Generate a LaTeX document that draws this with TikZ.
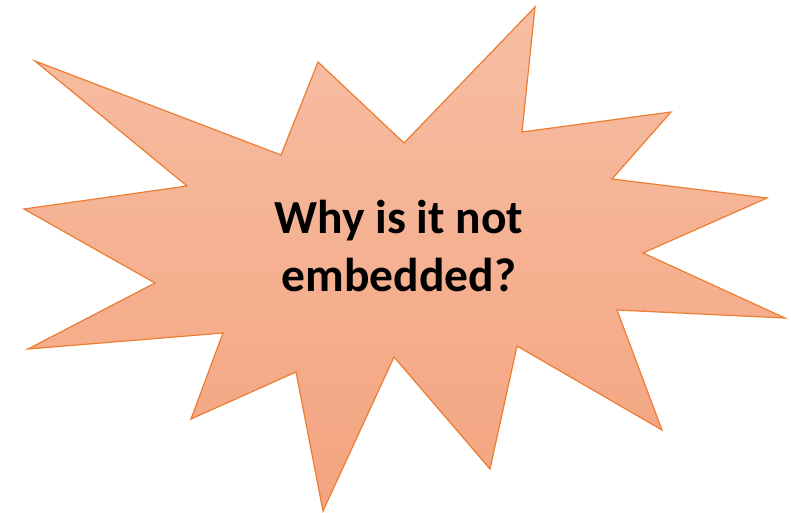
\documentclass[tikz,border=0pt]{standalone}
\usepackage{fontspec}
\setmainfont{Carlito}
\usepackage{tikz}
\definecolor{burstline}{HTML}{ED7D31}
\definecolor{bursttop}{HTML}{F6BEA4}
\definecolor{burstbot}{HTML}{F4A47F}
\tikzset{
  burst/.style={draw=burstline, line width=1.2pt, line join=miter,
    top color=bursttop, bottom color=burstbot},
  bursttext/.style={font=\bfseries\fontsize{47.5}{58}\selectfont, align=center,
    inner sep=0pt},
}

\begin{document}
\begin{tikzpicture}[x=1pt, y=-1pt]
  \useasboundingbox (0,0) rectangle (791,512);
  % explosion outline, clockwise from the upper left spike
  \path[burst] (35,61) -- (281,155) -- (318,62) -- (404,143) -- (535,7)
    -- (522,132) -- (671,112) -- (612,179) -- (767,198) -- (643,253)
    -- (785,318) -- (617,310) -- (662,430) -- (517,346) -- (490,469)
    -- (394,357) -- (323,511) -- (296,372) -- (191,419) -- (223,333)
    -- (28,349) -- (155,283) -- (24,209) -- (187,186) -- cycle;
  % the question
  \node[bursttext] (question) at (399,246) {Why is it not\\embedded?};
\end{tikzpicture}
\end{document}
